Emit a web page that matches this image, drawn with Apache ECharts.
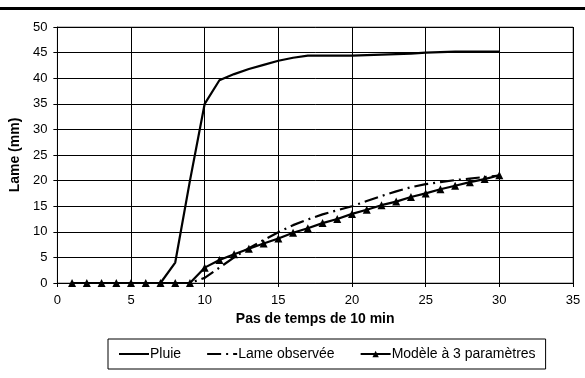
<!DOCTYPE html>
<html>
<head>
<meta charset="utf-8">
<script src="https://cdn.jsdelivr.net/npm/echarts@6/dist/echarts.min.js"></script>
<style>
  html, body { margin: 0; padding: 0; background: #fff; }
  #chart { width: 585px; height: 378px; }
</style>
</head>
<body>
<div id="chart"></div>
<script>
// Time steps (10 min each)
const steps = [1, 2, 3, 4, 5, 6, 7, 8, 9, 10, 11, 12, 13, 14, 15, 16, 17, 18, 19, 20,
               21, 22, 23, 24, 25, 26, 27, 28, 29, 30];

// Cumulative rainfall (mm)
const pluie = [0, 0, 0, 0, 0, 0, 0, 4, 20, 35, 39.6, 40.8, 41.8, 42.6, 43.4, 44.0, 44.4, 44.4, 44.4, 44.4,
               44.5, 44.6, 44.7, 44.8, 45.0, 45.1, 45.2, 45.2, 45.2, 45.2];

// Observed runoff depth (mm)
const lameObservee = [0, 0, 0, 0, 0, 0, 0, 0, 0, 1.0, 3.0, 5.0, 6.8, 8.4, 9.9, 11.3, 12.4, 13.4, 14.2, 15.0,
                      16.0, 17.0, 17.9, 18.7, 19.3, 19.7, 20.1, 20.4, 20.7, 21.0];

// Three-parameter model output (mm)
const modele3 = [0, 0, 0, 0, 0, 0, 0, 0, 0, 3.0, 4.5, 5.6, 6.7, 7.7, 8.7, 9.8, 10.7, 11.7, 12.5, 13.5,
                 14.3, 15.2, 15.9, 16.8, 17.5, 18.3, 19.0, 19.7, 20.3, 21.05];

const pairs = (ys) => steps.map((x, i) => [x, ys[i]]);

const FONT = '"Liberation Sans", Arial, sans-serif';

const chart = echarts.init(document.getElementById('chart'), null, { renderer: 'canvas' });

chart.setOption({
  animation: false,
  backgroundColor: '#fff',
  textStyle: { fontFamily: FONT, color: '#000' },
  graphic: [
    {
      type: 'rect',
      left: 0, top: 7,
      shape: { width: 585, height: 3 },
      style: { fill: '#000' },
      silent: true
    }
  ],
  grid: {
    left: 57, right: 12, top: 27, bottom: 95,
    show: true,
    borderColor: '#808080',
    borderWidth: 1
  },
  legend: {
    left: 108, top: 339,
    padding: [8, 10, 8, 10],
    itemGap: 25,
    itemWidth: 30,
    itemHeight: 8,
    borderColor: '#000',
    borderWidth: 1,
    backgroundColor: '#fff',
    textStyle: { fontFamily: FONT, fontSize: 14, color: '#000', padding: [0, 0, 0, -4] },
    data: [
      // line-only keys: hide the marker the legend would otherwise draw
      { name: 'Pluie', itemStyle: { opacity: 0 } },
      { name: 'Lame observée', itemStyle: { opacity: 0 } },
      { name: 'Modèle à 3 paramètres' }
    ]
  },
  xAxis: {
    type: 'value',
    min: 0, max: 35, interval: 5,
    name: 'Pas de temps de 10 min',
    nameLocation: 'middle',
    nameGap: 29,
    nameTextStyle: { fontFamily: FONT, fontSize: 14, fontWeight: 'bold', color: '#000' },
    axisLine: { show: true, lineStyle: { color: '#000', width: 1 } },
    axisTick: { show: true, inside: false, length: 4, lineStyle: { color: '#000' } },
    axisLabel: { fontFamily: FONT, fontSize: 13, color: '#000', margin: 11 },
    splitLine: { show: true, lineStyle: { color: '#000', width: 1 } }
  },
  yAxis: {
    type: 'value',
    min: 0, max: 50, interval: 5,
    name: 'Lame (mm)',
    nameLocation: 'middle',
    nameGap: 30,
    nameRotate: 90,
    nameTextStyle: { fontFamily: FONT, fontSize: 14, fontWeight: 'bold', color: '#000' },
    axisLine: { show: true, lineStyle: { color: '#000', width: 1 } },
    axisTick: { show: true, inside: false, length: 4, lineStyle: { color: '#000' } },
    axisLabel: { fontFamily: FONT, fontSize: 13, color: '#000', margin: 10 },
    splitLine: { show: true, lineStyle: { color: '#000', width: 1 } }
  },
  series: [
    {
      name: 'Pluie',
      type: 'line',
      data: pairs(pluie),
      showSymbol: false,
      symbol: 'none',
      lineStyle: { color: '#000', width: 2.2 },
      itemStyle: { color: '#000' },
      z: 2
    },
    {
      name: 'Lame observée',
      type: 'line',
      data: pairs(lameObservee),
      showSymbol: false,
      symbol: 'none',
      lineStyle: { color: '#000', width: 2.2, type: [14, 5, 2, 5] },
      itemStyle: { color: '#000' },
      z: 3
    },
    {
      name: 'Modèle à 3 paramètres',
      type: 'line',
      data: pairs(modele3),
      symbol: 'triangle',
      symbolSize: 8,
      lineStyle: { color: '#000', width: 2.2 },
      itemStyle: { color: '#000', borderWidth: 0 },
      z: 4
    }
  ]
});
</script>
</body>
</html>
